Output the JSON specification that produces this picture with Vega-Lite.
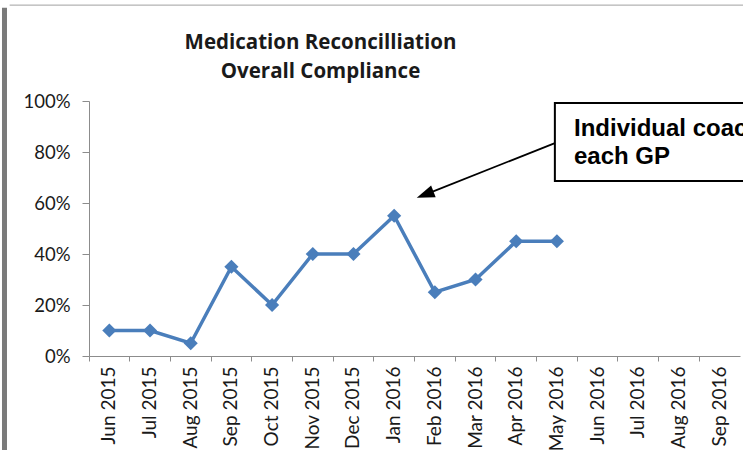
{
  "$schema": "https://vega.github.io/schema/vega-lite/v6.json",
  "width": 651,
  "height": 255,
  "autosize": {"type": "none"},
  "padding": {"left": 89, "top": 101, "right": 3, "bottom": 94},
  "background": "white",
  "config": {"view": {"stroke": null}},
  "title": {
    "text": ["Medication Reconcilliation", "Overall Compliance"],
    "font": "Open Sans",
    "fontSize": 20.5,
    "fontWeight": "bold",
    "color": "#1a1a1a",
    "lineHeight": 29,
    "baseline": "alphabetic",
    "anchor": "middle",
    "frame": "group",
    "dx": -94,
    "offset": -93.5
  },
  "datasets": {
    "main": [
      {"month": "Jun 2015", "value": 0.10},
      {"month": "Jul 2015", "value": 0.10},
      {"month": "Aug 2015", "value": 0.05},
      {"month": "Sep 2015", "value": 0.35},
      {"month": "Oct 2015", "value": 0.20},
      {"month": "Nov 2015", "value": 0.40},
      {"month": "Dec 2015", "value": 0.40},
      {"month": "Jan 2016", "value": 0.55},
      {"month": "Feb 2016", "value": 0.25},
      {"month": "Mar 2016", "value": 0.30},
      {"month": "Apr 2016", "value": 0.45},
      {"month": "May 2016", "value": 0.45},
      {"month": "Jun 2016", "value": null},
      {"month": "Jul 2016", "value": null},
      {"month": "Aug 2016", "value": null},
      {"month": "Sep 2016", "value": null}
    ],
    "box": [{"x": 10.95, "x2": 17, "y": 0.992, "y2": 0.686}],
    "label": [{"x": 11.42, "y": 0.863, "text": ["Individual coaching for", "each GP"]}],
    "arrow": [{"x": 10.95, "y": 0.835, "x2": 7.76, "y2": 0.633, "angle": 248.5}],
    "frameV": [{"x": -2.577, "y": 1.366, "y2": -0.45}],
    "frameH": [{"x": -2.45, "x2": 17, "y": 1.376}]
  },
  "layer": [
    {
      "layer": [
        {
          "data": {"name": "main"},
          "mark": {"type": "line", "color": "#4a7ebb", "strokeWidth": 3.5, "invalid": "break-paths-show-domains"},
          "encoding": {
            "x": {
              "field": "month", "type": "ordinal", "sort": null, "bandPosition": 0.5,
              "scale": {"type": "band", "paddingInner": 0, "paddingOuter": 0},
              "axis": {
                "orient": "bottom", "title": null, "labelAngle": 270, "labelFont": "Lato", "labelFontSize": 19,
                "labelColor": "#1a1a1a", "ticks": false, "domain": false, "labelPadding": 10,
                "bandPosition": 0.5
              }
            },
            "y": {
              "field": "value", "type": "quantitative",
              "scale": {"domain": [0, 1], "nice": false, "zero": false},
              "axis": {
                "title": null, "values": [0, 0.2, 0.4, 0.6, 0.8, 1], "format": ".0%",
                "grid": false, "labelFont": "Lato", "labelFontSize": 18.5, "labelColor": "#1a1a1a",
                "domainColor": "#8c8c8c", "tickColor": "#8c8c8c", "tickSize": 7, "labelPadding": 12
              }
            }
          }
        },
        {
          "data": {"name": "main"},
          "mark": {"type": "point", "shape": "diamond", "filled": true, "opacity": 1, "size": 200, "color": "#4a7ebb"},
          "encoding": {
            "x": {
              "field": "month", "type": "ordinal", "sort": null, "bandPosition": 0.5,
              "axis": {
                "orient": "bottom", "title": null, "labels": false, "ticks": true, "tickSize": 5, "domain": true,
                "domainColor": "#8c8c8c", "tickColor": "#8c8c8c", "bandPosition": 0
              }
            },
            "y": {"field": "value", "type": "quantitative"}
          }
        }
      ],
      "resolve": {"axis": {"x": "independent"}}
    },
    {
      "layer": [
        {
          "data": {"name": "frameV"},
          "mark": {"type": "rule", "color": "#7a7a7a", "strokeWidth": 5, "clip": false},
          "encoding": {
            "x": {"field": "x", "type": "quantitative", "scale": {"domain": [-0.5, 15.5], "nice": false, "zero": false}, "axis": null},
            "y": {"field": "y", "type": "quantitative"},
            "y2": {"field": "y2"}
          }
        },
        {
          "data": {"name": "frameH"},
          "mark": {"type": "rule", "color": "#a0a0a0", "strokeWidth": 1, "clip": false},
          "encoding": {
            "x": {"field": "x", "type": "quantitative", "axis": null},
            "x2": {"field": "x2"},
            "y": {"field": "y", "type": "quantitative"}
          }
        },
        {
          "data": {"name": "box"},
          "mark": {"type": "rect", "fill": "white", "stroke": "black", "strokeWidth": 2, "clip": false},
          "encoding": {
            "x": {"field": "x", "type": "quantitative", "axis": null},
            "x2": {"field": "x2"},
            "y": {"field": "y", "type": "quantitative"},
            "y2": {"field": "y2"}
          }
        },
        {
          "data": {"name": "label"},
          "mark": {"type": "text", "font": "Liberation Sans", "fontWeight": "bold", "fontSize": 24, "align": "left", "baseline": "alphabetic", "lineHeight": 28, "color": "black", "clip": false},
          "encoding": {
            "x": {"field": "x", "type": "quantitative", "axis": null},
            "y": {"field": "y", "type": "quantitative"},
            "text": {"field": "text"}
          }
        },
        {
          "data": {"name": "arrow"},
          "mark": {"type": "rule", "color": "black", "strokeWidth": 1.8, "clip": false},
          "encoding": {
            "x": {"field": "x", "type": "quantitative", "axis": null},
            "x2": {"field": "x2"},
            "y": {"field": "y", "type": "quantitative"},
            "y2": {"field": "y2"}
          }
        },
        {
          "data": {"name": "arrow"},
          "mark": {"type": "point", "shape": "M0,-1L0.7,1L-0.7,1Z", "filled": true, "opacity": 1, "color": "black", "size": 320, "clip": false},
          "encoding": {
            "x": {"field": "x2", "type": "quantitative", "axis": null},
            "y": {"field": "y2", "type": "quantitative"},
            "angle": {"field": "angle", "type": "quantitative", "scale": null}
          }
        }
      ]
    }
  ],
  "resolve": {"scale": {"x": "independent"}}
}
